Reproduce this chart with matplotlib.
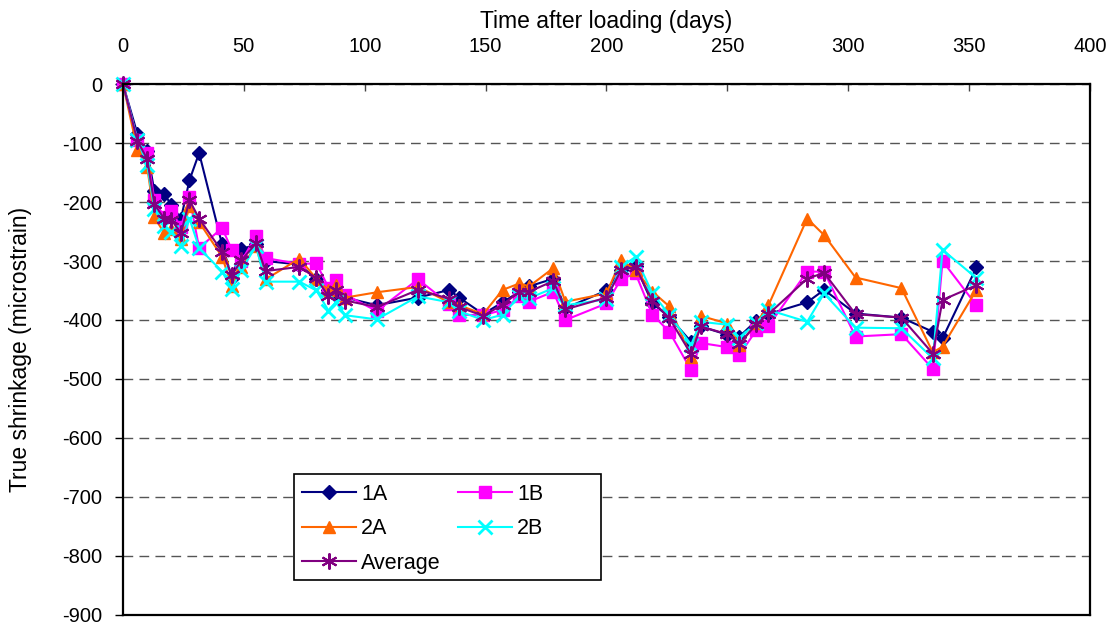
import matplotlib
matplotlib.use('Agg')
import matplotlib.pyplot as plt
from matplotlib.patches import Rectangle

plt.rcParams['font.family'] = ['Liberation Sans', 'DejaVu Sans']
plt.rcParams['axes.unicode_minus'] = False

# days after loading
days = [0, 6, 10, 13, 17, 20, 24, 27.5, 31.5, 41, 45, 49, 55, 59, 73, 80, 85, 88, 92,
        105, 122, 135, 139, 149, 157, 164, 168, 178, 183, 200, 206, 212, 219, 226,
        235, 239, 250, 255, 262, 267, 283, 290, 303, 322, 335, 339, 353]

s1A = [0, -85, -113, -182, -186, -205, -228, -163, -117, -272, -328, -280, -272, -300,
       -306, -331, -349, -355, -362, -375, -362, -349, -362, -390, -370, -352, -343,
       -330, -380, -350, -315, -308, -372, -395, -437, -411, -425, -428, -401, -390,
       -370, -349, -389, -396, -420, -431, -311]
s1B = [0, -95, -117, -197, -225, -216, -242, -192, -278, -244, -281, -300, -258, -295,
       -305, -304, -345, -332, -357, -385, -331, -373, -391, -392, -383, -360, -369,
       -352, -400, -372, -331, -321, -391, -420, -485, -439, -446, -459, -417, -410,
       -318, -318, -428, -424, -483, -300, -375]
s2A = [0, -112, -140, -226, -252, -245, -262, -207, -234, -293, -342, -310, -275, -331,
       -296, -330, -350, -340, -362, -353, -344, -370, -375, -390, -349, -338, -343,
       -312, -369, -355, -298, -315, -352, -377, -462, -393, -406, -442, -405, -375,
       -228, -256, -328, -346, -455, -445, -349]
s2B = [0, -95, -137, -212, -240, -250, -275, -228, -278, -318, -347, -315, -275, -335,
       -335, -350, -384, -370, -392, -399, -360, -370, -385, -400, -391, -360, -363,
       -346, -375, -365, -310, -293, -355, -391, -442, -403, -408, -430, -405, -383,
       -403, -355, -413, -414, -465, -281, -329]
avg = [0, -97, -127, -204, -228, -230, -253, -197, -228, -284, -324, -299, -270, -317,
       -310, -329, -360, -349, -367, -378, -349, -364, -378, -393, -374, -352, -352,
       -334, -382, -362, -316, -310, -368, -397, -458, -411, -424, -440, -407, -390,
       -330, -320, -390, -396, -457, -366, -341]

fig = plt.figure(figsize=(11.19, 6.26), dpi=100)
ax = fig.add_axes([0.1099, 0.0176, 0.8642, 0.8482])

h1A, = ax.plot(days, s1A, color='#000080', marker='D', ms=7, lw=1.5, label='1A', clip_on=False)
h1B, = ax.plot(days, s1B, color='#FF00FF', marker='s', ms=8, lw=1.5, label='1B', clip_on=False)
h2A, = ax.plot(days, s2A, color='#FF6600', marker='^', ms=9, lw=1.5, label='2A', clip_on=False)
h2B, = ax.plot(days, s2B, color='#00FFFF', marker='x', ms=9.5, mew=2, lw=1.5, label='2B', clip_on=False)
hav, = ax.plot(days, avg, color='#800080', marker=(6, 2, 0), ms=11.5, mew=1.5, lw=1.5,
               label='Average', clip_on=False)

ax.set_xlim(0, 400)
ax.set_ylim(-900, 0)
ax.set_xticks(range(0, 401, 50))
ax.set_yticks(range(-900, 1, 100))
ax.xaxis.tick_top()
ax.xaxis.set_label_position('top')
ax.tick_params(axis='x', direction='in', length=5, width=1, pad=20, labelsize=14.5, color='#444444')
ax.tick_params(axis='y', direction='out', length=6, width=1, pad=9, labelsize=14.5)
ax.yaxis.grid(True, linestyle=(0, (7, 4.5)), color='#555555', linewidth=1)
ax.set_axisbelow(True)
for sp in ax.spines.values():
    sp.set_linewidth(1.6)
    sp.set_color('black')

ax.set_xlabel('Time after loading (days)', fontsize=16.5, labelpad=7)
ax.set_ylabel('True shrinkage (microstrain)', fontsize=16.5)
ax.yaxis.set_label_coords(-0.094, 0.5)

# legend box
ax.add_patch(Rectangle((0.1768, 0.0659), 0.3172, 0.1996, transform=ax.transAxes,
                       facecolor='white', edgecolor='black', lw=1.2, zorder=4))
leg = ax.legend(handles=[h1A, h2A, hav, h1B, h2B], ncol=2, loc='upper left',
                bbox_to_anchor=(0.1848, 0.247), frameon=False, fontsize=15.5,
                borderaxespad=0, borderpad=0, handlelength=2.5, handletextpad=0.25,
                columnspacing=0.8, labelspacing=0.62)
leg.set_zorder(5)

fig.savefig('out.png', dpi=100)
